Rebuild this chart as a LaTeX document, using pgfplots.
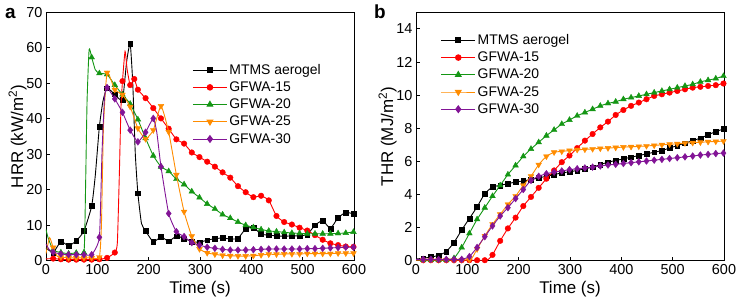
\documentclass[border=0pt]{standalone}
\usepackage{fontspec}
\setmainfont{Liberation Sans}
\usepackage{pgfplots}
\usepackage{pgfplotstable}
\pgfplotsset{compat=1.18}

\definecolor{cBlack}{RGB}{0,0,0}
\definecolor{cRed}{RGB}{255,0,0}
\definecolor{cGreen}{RGB}{20,150,20}
\definecolor{cOrange}{RGB}{255,140,0}
\definecolor{cPurple}{RGB}{130,20,150}

% Heat release rate (kW/m^2); m = 1 marks a plotted symbol
\pgfplotstableread{
t v m
0 3.6 0
14 2.3 1
29 5.4 1
44 4.2 1
59 5.6 1
74 8.4 1
89 15.4 1
96 24 0
104 37.8 1
111 45 0
119 48.6 1
134 46.9 1
149 45.3 1
157 56.0 0
164 61.2 1
169 50 0
174 30 0
179 19.0 1
186 10.5 0
194 8.4 1
209 5.3 1
224 6.7 1
239 5.5 1
254 6.9 1
269 6.3 1
284 5.4 1
299 5.2 1
314 5.8 1
329 6.2 1
344 6.4 1
359 6.1 1
374 6.3 1
389 9.0 1
404 9.3 1
419 7.5 1
434 7.2 1
449 7.0 1
464 6.9 1
479 7.0 1
494 7.0 1
509 7.4 1
524 10.0 1
539 11.3 1
554 9.1 1
569 12.1 1
584 13.6 1
599 13.2 1
}\hrrMTMS

\pgfplotstableread{
t v m
0 0.5 0
14 0.6 1
29 0.4 1
44 0.3 1
59 0.3 1
74 0.3 1
89 0.3 1
104 0.4 1
119 0.8 1
134 2.3 1
139 5 0
143 25 0
146 43 0
149 50.6 1
154 59.0 0
158 54 0
164 49.5 1
172 51.2 1
179 48.2 1
194 45.8 1
209 43.0 1
224 40.1 1
239 37.2 1
254 34.2 1
269 33.0 1
284 30.5 1
299 29.2 1
314 27.9 1
329 26.5 1
344 24.9 1
359 23.4 1
374 21.0 1
389 19.3 1
404 17.9 1
419 18.3 1
434 17.0 1
449 12.6 1
464 10.9 1
479 10.2 1
494 9.3 1
509 8.5 1
524 7.2 1
539 5.9 1
554 4.9 1
569 4.4 1
584 4.0 1
599 3.9 1
}\hrrA

\pgfplotstableread{
t v m
0 8.8 0
4 6.5 0
14 3.0 1
29 2.3 1
44 2.0 1
59 2.2 1
74 2.3 1
77 20 0
80 45 0
84 59.5 0
89 57.3 1
96 53.8 0
104 52.8 1
119 52.5 1
134 49.5 1
149 46.8 1
164 44.2 1
179 39.8 1
194 34.5 1
209 29.6 1
224 26.5 1
239 25.2 1
254 23.0 1
269 21.5 1
284 19.5 1
299 17.8 1
314 16.0 1
329 14.6 1
344 13.0 1
359 12.0 1
374 10.9 1
389 10.0 1
404 9.4 1
419 8.8 1
434 8.4 1
449 8.2 1
464 8.0 1
479 7.8 1
494 7.7 1
509 7.6 1
524 7.6 1
539 7.6 1
554 7.6 1
569 7.7 1
584 7.8 1
599 8.1 1
}\hrrB

\pgfplotstableread{
t v m
0 2.0 0
7 6.5 0
14 3.7 1
22 1.2 0
29 1.0 1
44 0.8 1
59 0.8 1
74 0.8 1
89 0.8 1
104 1.0 1
108 10 0
112 38 0
119 53.0 1
134 48.2 1
149 46.8 1
164 43.4 1
179 37.3 1
194 34.3 1
209 36.8 1
224 43.6 1
239 36.3 1
254 24.2 1
269 13.8 1
284 6.9 1
299 3.3 1
314 2.2 1
329 1.8 1
344 1.5 1
359 1.4 1
374 1.3 1
389 1.3 1
404 1.4 1
419 1.6 1
434 1.8 1
449 1.8 1
464 1.9 1
479 1.9 1
494 1.9 1
509 2.0 1
524 2.0 1
539 2.0 1
554 2.0 1
569 2.1 1
584 2.1 1
599 2.1 1
}\hrrC

\pgfplotstableread{
t v m
0 4.7 0
6 3.2 0
14 2.4 1
29 1.9 1
44 1.7 1
59 1.7 1
74 1.7 1
89 1.7 1
104 6.6 1
109 30 0
114 46 0
119 48.8 1
134 45.6 1
149 41.8 1
164 36.8 1
179 33.5 1
194 36.2 1
209 40.1 1
216 36 0
224 26.5 1
239 13.3 1
254 8.2 1
269 6.8 1
284 5.1 1
299 4.4 1
314 3.8 1
329 3.5 1
344 3.2 1
359 3.0 1
374 3.0 1
389 3.0 1
404 3.1 1
419 3.2 1
434 3.3 1
449 3.3 1
464 3.3 1
479 3.3 1
494 3.3 1
509 3.4 1
524 3.4 1
539 3.5 1
554 3.6 1
569 3.7 1
584 3.8 1
599 3.8 1
}\hrrD

% Total heat release (MJ/m^2)
\pgfplotstableread{
t v m
0 0.1 0
14 0.15 1
29 0.22 1
44 0.32 1
59 0.55 1
74 1.1 1
89 1.85 1
104 2.55 1
119 3.25 1
134 4.05 1
149 4.45 1
164 4.55 1
179 4.65 1
194 4.75 1
209 4.82 1
224 4.9 1
239 5.0 1
254 5.1 1
269 5.2 1
284 5.3 1
299 5.37 1
314 5.45 1
329 5.55 1
344 5.65 1
359 5.8 1
374 5.95 1
389 6.05 1
404 6.15 1
419 6.25 1
434 6.35 1
449 6.45 1
464 6.55 1
479 6.65 1
494 6.8 1
509 6.95 1
524 7.1 1
539 7.25 1
554 7.4 1
569 7.6 1
584 7.8 1
599 7.95 1
}\thrMTMS

\pgfplotstableread{
t v m
0 0.03 0
14 0.03 1
29 0.03 1
44 0.03 1
59 0.03 1
74 0.03 1
89 0.03 1
104 0.03 1
119 0.03 1
134 0.03 1
141 0.08 0
149 0.35 1
164 1.2 1
179 1.95 1
194 2.6 1
209 3.3 1
224 3.85 1
239 4.4 1
254 4.95 1
269 5.45 1
284 5.95 1
299 6.35 1
314 6.8 1
329 7.25 1
344 7.65 1
359 8.05 1
374 8.4 1
389 8.8 1
404 9.1 1
419 9.35 1
434 9.55 1
449 9.75 1
464 9.95 1
479 10.05 1
494 10.15 1
509 10.25 1
524 10.35 1
539 10.45 1
554 10.5 1
569 10.55 1
584 10.6 1
599 10.7 1
}\thrA

\pgfplotstableread{
t v m
0 0.05 0
14 0.05 1
29 0.05 1
44 0.05 1
59 0.06 1
74 0.15 1
89 0.8 1
104 1.65 1
119 2.5 1
134 3.2 1
149 3.9 1
164 4.55 1
179 5.2 1
194 5.75 1
209 6.3 1
224 6.75 1
239 7.15 1
254 7.55 1
269 7.9 1
284 8.25 1
299 8.5 1
314 8.75 1
329 8.95 1
344 9.15 1
359 9.35 1
374 9.5 1
389 9.6 1
404 9.75 1
419 9.85 1
434 9.95 1
449 10.05 1
464 10.15 1
479 10.25 1
494 10.35 1
509 10.45 1
524 10.55 1
539 10.65 1
554 10.8 1
569 10.9 1
584 11.0 1
599 11.15 1
}\thrB

\pgfplotstableread{
t v m
0 0.05 0
14 0.05 1
29 0.05 1
44 0.05 1
59 0.05 1
74 0.05 1
89 0.05 1
104 0.06 1
110 0.2 0
119 0.7 1
134 1.5 1
149 2.2 1
164 2.8 1
179 3.4 1
194 3.9 1
209 4.55 1
224 5.1 1
239 5.8 1
254 6.3 1
269 6.55 1
284 6.6 1
299 6.65 1
314 6.7 1
329 6.72 1
344 6.75 1
359 6.78 1
374 6.8 1
389 6.83 1
404 6.86 1
419 6.88 1
434 6.9 1
449 6.93 1
464 6.96 1
479 7.0 1
494 7.03 1
509 7.06 1
524 7.1 1
539 7.12 1
554 7.15 1
569 7.18 1
584 7.2 1
599 7.22 1
}\thrC

\pgfplotstableread{
t v m
0 0.08 0
14 0.08 1
29 0.08 1
44 0.08 1
59 0.08 1
74 0.08 1
89 0.08 1
104 0.25 1
119 0.8 1
134 1.45 1
149 2.1 1
164 2.7 1
179 3.2 1
194 3.75 1
209 4.3 1
224 4.85 1
239 5.1 1
254 5.25 1
269 5.35 1
284 5.42 1
299 5.5 1
314 5.55 1
329 5.6 1
344 5.65 1
359 5.72 1
374 5.78 1
389 5.82 1
404 5.87 1
419 5.92 1
434 5.97 1
449 6.02 1
464 6.07 1
479 6.12 1
494 6.17 1
509 6.22 1
524 6.27 1
539 6.32 1
554 6.38 1
569 6.42 1
584 6.47 1
599 6.5 1
}\thrD

\newcommand{\legfont}{\fontsize{14}{15}\selectfont}

\pgfplotsset{
  mkA/.style={mark=square*, mark size=2.4bp},
  mkB/.style={mark=*, mark size=2.8bp},
  mkC/.style={mark=triangle*, mark size=3.3bp},
  mkD/.style={mark=triangle*, mark size=3.3bp, mark options={rotate=180}},
  mkE/.style={mark=diamond*, mark size=3.4bp},
  panel/.style={
    scale only axis, width=308bp, height=248.4bp,
    xmin=0, xmax=600, xtick={0,100,...,600},
    tick align=inside, xtick pos=lower, ytick pos=left,
    major tick length=4bp,
    every tick/.style={black, line width=0.8bp},
    axis line style={line width=0.8bp},
    /pgf/number format/assume math mode=true,
    ticklabel style={font=\fontsize{14.5}{16}\selectfont},
    label style={font=\fontsize{17}{19}\selectfont},
    xlabel={Time (s)},
    ylabel shift=-7bp,
    clip mode=individual,
    legend cell align=left,
    legend image code/.code={\draw[mark repeat=2,mark phase=2] plot coordinates {(0bp,0bp) (17bp,0bp) (34bp,0bp)};},
    legend style={draw=none, fill=none, anchor=north west,
      font=\legfont, row sep=2bp, inner sep=0pt},
  },
}

\newcommand{\series}[3]{%
  \addplot[#2, line width=0.9bp, smooth, tension=0.3, forget plot] table[x=t, y=v]{#1};
  \addplot[#2, only marks, #3, forget plot,
    restrict expr to domain={\thisrow{m}}{0.5:1.5}] table[x=t, y=v]{#1};
}

\newcommand{\legendset}{%
  \addlegendimage{cBlack, line width=0.9bp, mkA}\addlegendentry{\legfont MTMS aerogel}
  \addlegendimage{cRed, line width=0.9bp, mkB}\addlegendentry{\legfont GFWA-15}
  \addlegendimage{cGreen, line width=0.9bp, mkC}\addlegendentry{\legfont GFWA-20}
  \addlegendimage{cOrange, line width=0.9bp, mkD}\addlegendentry{\legfont GFWA-25}
  \addlegendimage{cPurple, line width=0.9bp, mkE}\addlegendentry{\legfont GFWA-30}
}

\begin{document}
\begin{tikzpicture}
\path[use as bounding box] (-46bp,-37.3bp) rectangle (693bp,260.7bp);

\begin{axis}[panel, at={(0bp,0bp)}, anchor=south west,
  ymin=0, ymax=70, ytick={0,10,...,70},
  ylabel={HRR (kW/m\textsuperscript{2})},
  legend style={at={(0.475,0.80)}}]
  \legendset
  \series{\hrrMTMS}{cBlack}{mkA}
  \series{\hrrA}{cRed}{mkB}
  \series{\hrrB}{cGreen}{mkC}
  \series{\hrrC}{cOrange}{mkD}
  \series{\hrrD}{cPurple}{mkE}
\end{axis}
\node[font=\bfseries\fontsize{19}{20}\selectfont, anchor=base] at (-35.5bp,241.7bp) {a};

\begin{axis}[panel, at={(370bp,0bp)}, anchor=south west,
  ymin=0, ymax=15, ytick={0,2,...,14},
  ylabel={THR (MJ/m\textsuperscript{2})},
  legend style={at={(0.08,0.92)}}]
  \legendset
  \series{\thrMTMS}{cBlack}{mkA}
  \series{\thrA}{cRed}{mkB}
  \series{\thrB}{cGreen}{mkC}
  \series{\thrC}{cOrange}{mkD}
  \series{\thrD}{cPurple}{mkE}
\end{axis}
\node[font=\bfseries\fontsize{19}{20}\selectfont, anchor=base] at (334bp,241.7bp) {b};
\end{tikzpicture}
\end{document}
